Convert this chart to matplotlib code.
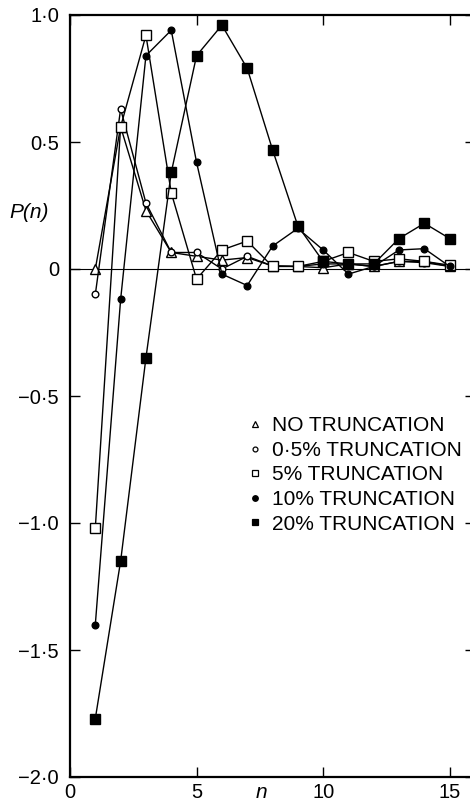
import matplotlib
matplotlib.use("Agg")
import matplotlib.pyplot as plt
from matplotlib.lines import Line2D

plt.rcParams['font.family'] = ['Liberation Sans', 'DejaVu Sans']

n = list(range(1, 16))
no_trunc = [0.0, 0.56, 0.23, 0.065, 0.05, 0.035, 0.045, 0.012, 0.01, 0.005, 0.02, 0.01, 0.03, 0.03, 0.01]
trunc_05 = [-0.10, 0.63, 0.26, 0.065, 0.065, 0.0, 0.05, 0.012, 0.01, 0.02, 0.02, 0.01, 0.03, 0.025, 0.01]
trunc_5 = [-1.02, 0.56, 0.92, 0.30, -0.04, 0.075, 0.11, 0.01, 0.01, 0.03, 0.065, 0.03, 0.04, 0.03, 0.015]
trunc_10 = [-1.40, -0.12, 0.84, 0.94, 0.42, -0.02, -0.065, 0.09, 0.16, 0.075, -0.02, 0.01, 0.075, 0.08, 0.01]
trunc_20 = [-1.77, -1.15, -0.35, 0.38, 0.84, 0.96, 0.79, 0.47, 0.17, 0.03, 0.02, 0.02, 0.12, 0.18, 0.12]

labels = ["NO TRUNCATION", "0·5% TRUNCATION", "5% TRUNCATION",
          "10% TRUNCATION", "20% TRUNCATION"]
yticks = [-2.0, -1.5, -1.0, -0.5, 0.0, 0.5, 1.0]
xticks = [0, 5, 10, 15]

W, H = 470, 802
fig = plt.figure(figsize=(W / 100, H / 100), dpi=100)
left, right, top, bottom = 70, 475, 15, 777
ax = fig.add_axes([left / W, 1 - bottom / H, (right - left) / W, (bottom - top) / H])

ax.axhline(0, color='black', lw=0.8, zorder=1)

styles = [
    (no_trunc, dict(marker='^', ms=6.5, mfc='white')),
    (trunc_05, dict(marker='o', ms=4.8, mfc='white')),
    (trunc_5, dict(marker='s', ms=6.8, mfc='white')),
    (trunc_10, dict(marker='o', ms=4.8, mfc='black')),
    (trunc_20, dict(marker='s', ms=6.8, mfc='black')),
]
for vals, st in styles:
    ax.plot(n, vals, color='black', lw=1.0, mec='black', mew=1.0, zorder=3, **st)

ax.set_xlim(0, 16)
ax.set_ylim(-2.0, 1.0)
ax.set_xticks(xticks)
ax.set_xticklabels([str(v) for v in xticks])
ax.set_yticks(yticks)


def fmt(v):
    if v == 0:
        return "0"
    return f"{v:.1f}".replace('.', '·').replace('-', '−')


ax.set_yticklabels([fmt(v) for v in yticks])
ax.tick_params(axis='both', direction='in', length=7, width=1.0, labelsize=14.5,
               top=True, right=True)
ax.tick_params(axis='y', pad=8)
ax.tick_params(axis='x', pad=4)
for s in ax.spines.values():
    s.set_linewidth(1.6)

handles = [
    Line2D([], [], ls='none', marker='^', ms=4.5, mfc='white', mec='black', mew=0.9),
    Line2D([], [], ls='none', marker='o', ms=3.5, mfc='white', mec='black', mew=0.9),
    Line2D([], [], ls='none', marker='s', ms=4.5, mfc='white', mec='black', mew=0.9),
    Line2D([], [], ls='none', marker='o', ms=4.0, mfc='black', mec='black', mew=0.9),
    Line2D([], [], ls='none', marker='s', ms=5.0, mfc='black', mec='black', mew=0.9),
]
ax.legend(handles, labels, loc='upper left', bbox_to_anchor=(0.442, 0.4735),
          frameon=False, fontsize=15, handlelength=0.6, handletextpad=0.5,
          labelspacing=0.27, borderpad=0, borderaxespad=0)

fig.text(29 / W, 1 - 212 / H, "P(n)", fontsize=15, style='italic', ha='center', va='center')
fig.text(261 / W, 1 - 793 / H, "n", fontsize=15, style='italic', ha='center', va='center')

fig.savefig("out.png", dpi=100)
